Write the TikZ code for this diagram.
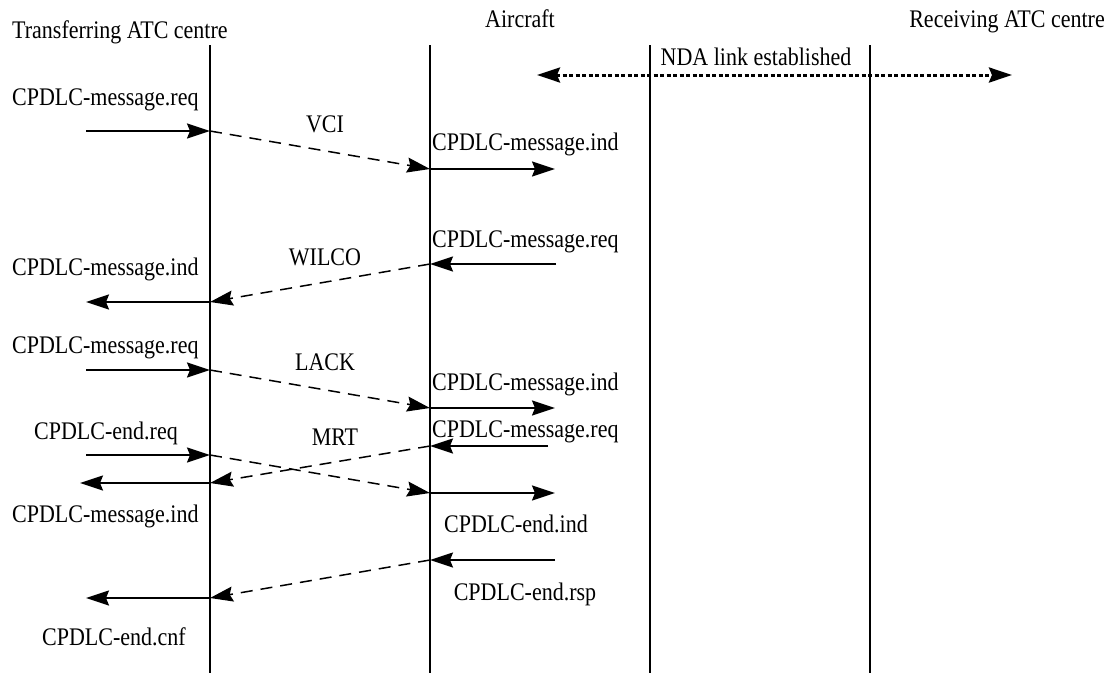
\documentclass[tikz,border=0pt]{standalone}
\usepackage{fontspec}
\setmainfont{Liberation Serif}
\usepackage{graphicx}
\usetikzlibrary{arrows.meta}
\newcommand{\tallt}[1]{\scalebox{1}[1.15]{#1}}
\begin{document}
\begin{tikzpicture}[x=1pt,y=-1pt,
  lbl/.style={font=\fontsize{22}{26}\selectfont, inner sep=0pt},
  life/.style={line width=1.2pt},
  tip/.style={},
  msg/.style={line width=1.7pt, -{Stealth[length=23pt,width=15pt,inset=3pt]}},
  pdu/.style={line width=1.5pt, dash pattern=on 12pt off 8pt, -{Stealth[length=23pt,width=15pt,inset=3pt]}},
  nda/.style={line width=3pt, dash pattern=on 4pt off 2.5pt, {Stealth[length=23pt,width=15pt,inset=3pt]}-{Stealth[length=23pt,width=15pt,inset=3pt]}}]
\useasboundingbox (0,0) rectangle (1108,673);

% headings
\node[lbl, anchor=base west] (hT) at (12,38) {\tallt{Transferring ATC centre}};
\node[lbl, anchor=base] (hA) at (520,27) {\tallt{Aircraft}};
\node[lbl, anchor=base east] (hR) at (1105,27) {\tallt{Receiving ATC centre}};

% lifelines
\foreach \n/\x in {T/210,A/430,P/650,R/870}{
  \coordinate (\n top) at (\x,45);
  \coordinate (\n bot) at (\x,673);
  \draw[life] (\n top) -- (\n bot);
}

% NDA link
\coordinate (ndaL) at (537,75);
\coordinate (ndaR) at (1012,75);
\draw[nda] (ndaL) -- (ndaR);
\node[lbl, anchor=base] (ndaT) at (756,65) {\tallt{NDA link established}};

% row 1: VCI
\coordinate (r1a) at (86,131);
\coordinate (r1b) at (210,131);
\coordinate (r1c) at (430,169);
\coordinate (r1d) at (555,169);
\draw[msg] (r1a) -- (r1b);
\draw[pdu] (r1b) -- (r1c);
\draw[msg] (r1c) -- (r1d);
\node[lbl, anchor=base west] (l1a) at (12,105) {\tallt{CPDLC-message.req}};
\node[lbl, anchor=base] (l1v) at (325,132) {\tallt{VCI}};
\node[lbl, anchor=base west] (l1c) at (432,150) {\tallt{CPDLC-message.ind}};

% row 2: WILCO
\coordinate (r2a) at (556,264);
\coordinate (r2b) at (430,264);
\coordinate (r2c) at (210,302);
\coordinate (r2d) at (86,302);
\draw[msg] (r2a) -- (r2b);
\draw[pdu] (r2b) -- (r2c);
\draw[msg] (r2c) -- (r2d);
\node[lbl, anchor=base west] (l2a) at (432,247) {\tallt{CPDLC-message.req}};
\node[lbl, anchor=base] (l2w) at (325,265) {\tallt{WILCO}};
\node[lbl, anchor=base west] (l2d) at (12,275) {\tallt{CPDLC-message.ind}};

% row 3: LACK
\coordinate (r3a) at (86,370);
\coordinate (r3b) at (210,370);
\coordinate (r3c) at (430,408);
\coordinate (r3d) at (555,408);
\draw[msg] (r3a) -- (r3b);
\draw[pdu] (r3b) -- (r3c);
\draw[msg] (r3c) -- (r3d);
\node[lbl, anchor=base west] (l3a) at (12,353) {\tallt{CPDLC-message.req}};
\node[lbl, anchor=base] (l3l) at (325,370) {\tallt{LACK}};
\node[lbl, anchor=base west] (l3c) at (432,390) {\tallt{CPDLC-message.ind}};

% row 4: MRT crossing
\coordinate (r4a) at (86,455);
\coordinate (r4b) at (210,455);
\coordinate (r4c) at (430,493);
\coordinate (r4d) at (555,493);
\draw[msg] (r4a) -- (r4b);
\draw[pdu] (r4b) -- (r4c);
\draw[msg] (r4c) -- (r4d);
\coordinate (r5a) at (548,446);
\coordinate (r5b) at (430,446);
\coordinate (r5c) at (210,483);
\coordinate (r5d) at (80,483);
\draw[msg] (r5a) -- (r5b);
\draw[pdu] (r5b) -- (r5c);
\draw[msg] (r5c) -- (r5d);
\node[lbl, anchor=base] (l4a) at (106,439) {\tallt{CPDLC-end.req}};
\node[lbl, anchor=base] (l4m) at (335,445) {\tallt{MRT}};
\node[lbl, anchor=base west] (l5a) at (432,437) {\tallt{CPDLC-message.req}};
\node[lbl, anchor=base west] (l5d) at (12,522) {\tallt{CPDLC-message.ind}};
\node[lbl, anchor=base] (l4d) at (516,532) {\tallt{CPDLC-end.ind}};

% row 5: end response
\coordinate (r6a) at (555,560);
\coordinate (r6b) at (430,560);
\coordinate (r6c) at (210,598);
\coordinate (r6d) at (86,598);
\draw[msg] (r6a) -- (r6b);
\draw[pdu] (r6b) -- (r6c);
\draw[msg] (r6c) -- (r6d);
\node[lbl, anchor=base] (l6a) at (525,600) {\tallt{CPDLC-end.rsp}};
\node[lbl, anchor=base] (l6d) at (114,645) {\tallt{CPDLC-end.cnf}};
\end{tikzpicture}
\end{document}
